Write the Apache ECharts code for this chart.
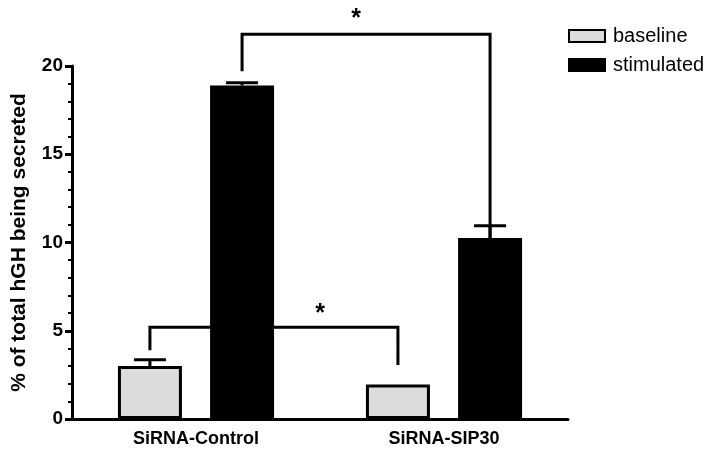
<!DOCTYPE html>
<html>
<head>
<meta charset="utf-8">
<script src="https://cdn.jsdelivr.net/npm/echarts@6/dist/echarts.min.js"></script>
<style>
html,body{margin:0;padding:0;background:#fff;}
#chart{width:714px;height:456px;}
</style>
</head>
<body>
<div id="chart"></div>
<script>
// ---- data ----
const categories = ['SiRNA-Control', 'SiRNA-SIP30'];
const seriesNames = ['baseline', 'stimulated'];
const baselineValues = [3.0, 1.95];
const baselineErrors = [0.35, 0];
const stimulatedValues = [18.9, 10.25];
const stimulatedErrors = [0.15, 0.7];
const yMin = 0, yMax = 20, yInterval = 5;
// significance brackets: [seriesIndex, barTop, leftEnd, rightEnd, starFraction, starValue]
const brackets = [
  [1, 21.8, 19.7, 8.9, 0.46, 22.65],
  [0, 5.2, 3.9, 3.06, 0.686, 5.95]
];

// ---- layout constants ----
const BAR_W = 0.258;   // fraction of band
const BAR_GAP = 0.44;  // fraction of bar width
const FONT = '"Liberation Sans", Arial, sans-serif';

const errData = [];
baselineValues.forEach((v, i) => errData.push([i, 0, v, baselineErrors[i]]));
stimulatedValues.forEach((v, i) => errData.push([i, 1, v, stimulatedErrors[i]]));

function barOffset(api, s) {
  const band = api.size([1, 0])[0];
  const bw = band * BAR_W;
  const gap = bw * BAR_GAP;
  return (s === 0 ? -1 : 1) * (bw + gap) / 2;
}

const chart = echarts.init(document.getElementById('chart'));
chart.setOption({
  animation: false,
  backgroundColor: '#fff',
  grid: { left: 72, right: 146, top: 66, bottom: 37, containLabel: false },
  legend: {
    data: seriesNames,
    orient: 'vertical',
    left: 563, top: 21,
    icon: 'rect',
    itemWidth: 36, itemHeight: 12, itemGap: 9,
    textStyle: { fontSize: 20, fontFamily: FONT, color: '#000', padding: [0, 0, 0, 3] }
  },
  xAxis: {
    type: 'category',
    data: categories,
    axisLine: { lineStyle: { color: '#000', width: 3 } },
    axisTick: { show: false },
    axisLabel: { color: '#000', fontSize: 18, fontWeight: 'bold', fontFamily: FONT, margin: 11 }
  },
  yAxis: {
    type: 'value',
    min: yMin, max: yMax, interval: yInterval,
    name: '% of total hGH being secreted',
    nameLocation: 'middle',
    nameRotate: 90,
    nameGap: 42,
    nameTextStyle: { color: '#000', fontSize: 21, fontWeight: 'bold', fontFamily: FONT },
    axisLine: { show: true, lineStyle: { color: '#000', width: 3 } },
    axisTick: { show: true, length: 7, lineStyle: { color: '#000', width: 3 } },
    minorTick: { show: true, splitNumber: 5, length: 4, lineStyle: { color: '#000', width: 2 } },
    splitLine: { show: false },
    axisLabel: { color: '#000', fontSize: 19, fontWeight: 'bold', fontFamily: FONT, margin: 9 }
  },
  series: [
    {
      name: 'baseline', type: 'bar', data: baselineValues,
      barWidth: (BAR_W * 100) + '%', barGap: (BAR_GAP * 100) + '%',
      itemStyle: { color: '#dcdcdc', borderColor: '#000', borderWidth: 3 }
    },
    {
      name: 'stimulated', type: 'bar', data: stimulatedValues,
      barWidth: (BAR_W * 100) + '%', barGap: (BAR_GAP * 100) + '%',
      itemStyle: { color: '#000', borderColor: '#000', borderWidth: 3 }
    },
    {
      type: 'custom', clip: false, silent: true,
      data: errData,
      encode: { x: 0, y: 2 },
      renderItem: function (params, api) {
        const cat = api.value(0), s = api.value(1), v = api.value(2), e = api.value(3);
        if (!e) return null;
        const off = barOffset(api, s);
        const b = api.coord([cat, v]);
        const t = api.coord([cat, v + e]);
        const x = b[0] + off;
        const st = { stroke: '#000', lineWidth: 3 };
        return { type: 'group', children: [
          { type: 'line', shape: { x1: x, y1: b[1], x2: x, y2: t[1] }, style: st },
          { type: 'line', shape: { x1: x - 16, y1: t[1], x2: x + 16, y2: t[1] }, style: st }
        ]};
      }
    },
    {
      type: 'custom', clip: false, silent: true,
      data: brackets.map(b => [0].concat(b)),
      encode: { x: 0, y: 2 },
      renderItem: function (params, api) {
        const s = api.value(1), top = api.value(2), le = api.value(3), re = api.value(4);
        const frac = api.value(5), sv = api.value(6);
        const off = barOffset(api, s);
        const pl = api.coord([0, top]), pr = api.coord([1, top]);
        const xl = pl[0] + off, xr = pr[0] + off;
        const yt = pl[1];
        const yl = api.coord([0, le])[1], yr = api.coord([1, re])[1];
        const ys = api.coord([0, sv])[1];
        return { type: 'group', children: [
          { type: 'polyline', shape: { points: [[xl, yl], [xl, yt], [xr, yt], [xr, yr]] },
            style: { stroke: '#000', lineWidth: 3, fill: null } },
          { type: 'text', style: { text: '*', x: xl + (xr - xl) * frac, y: ys,
            font: 'bold 25px ' + FONT, fill: '#000', align: 'center', verticalAlign: 'middle' } }
        ]};
      }
    }
  ]
});
</script>
</body>
</html>
